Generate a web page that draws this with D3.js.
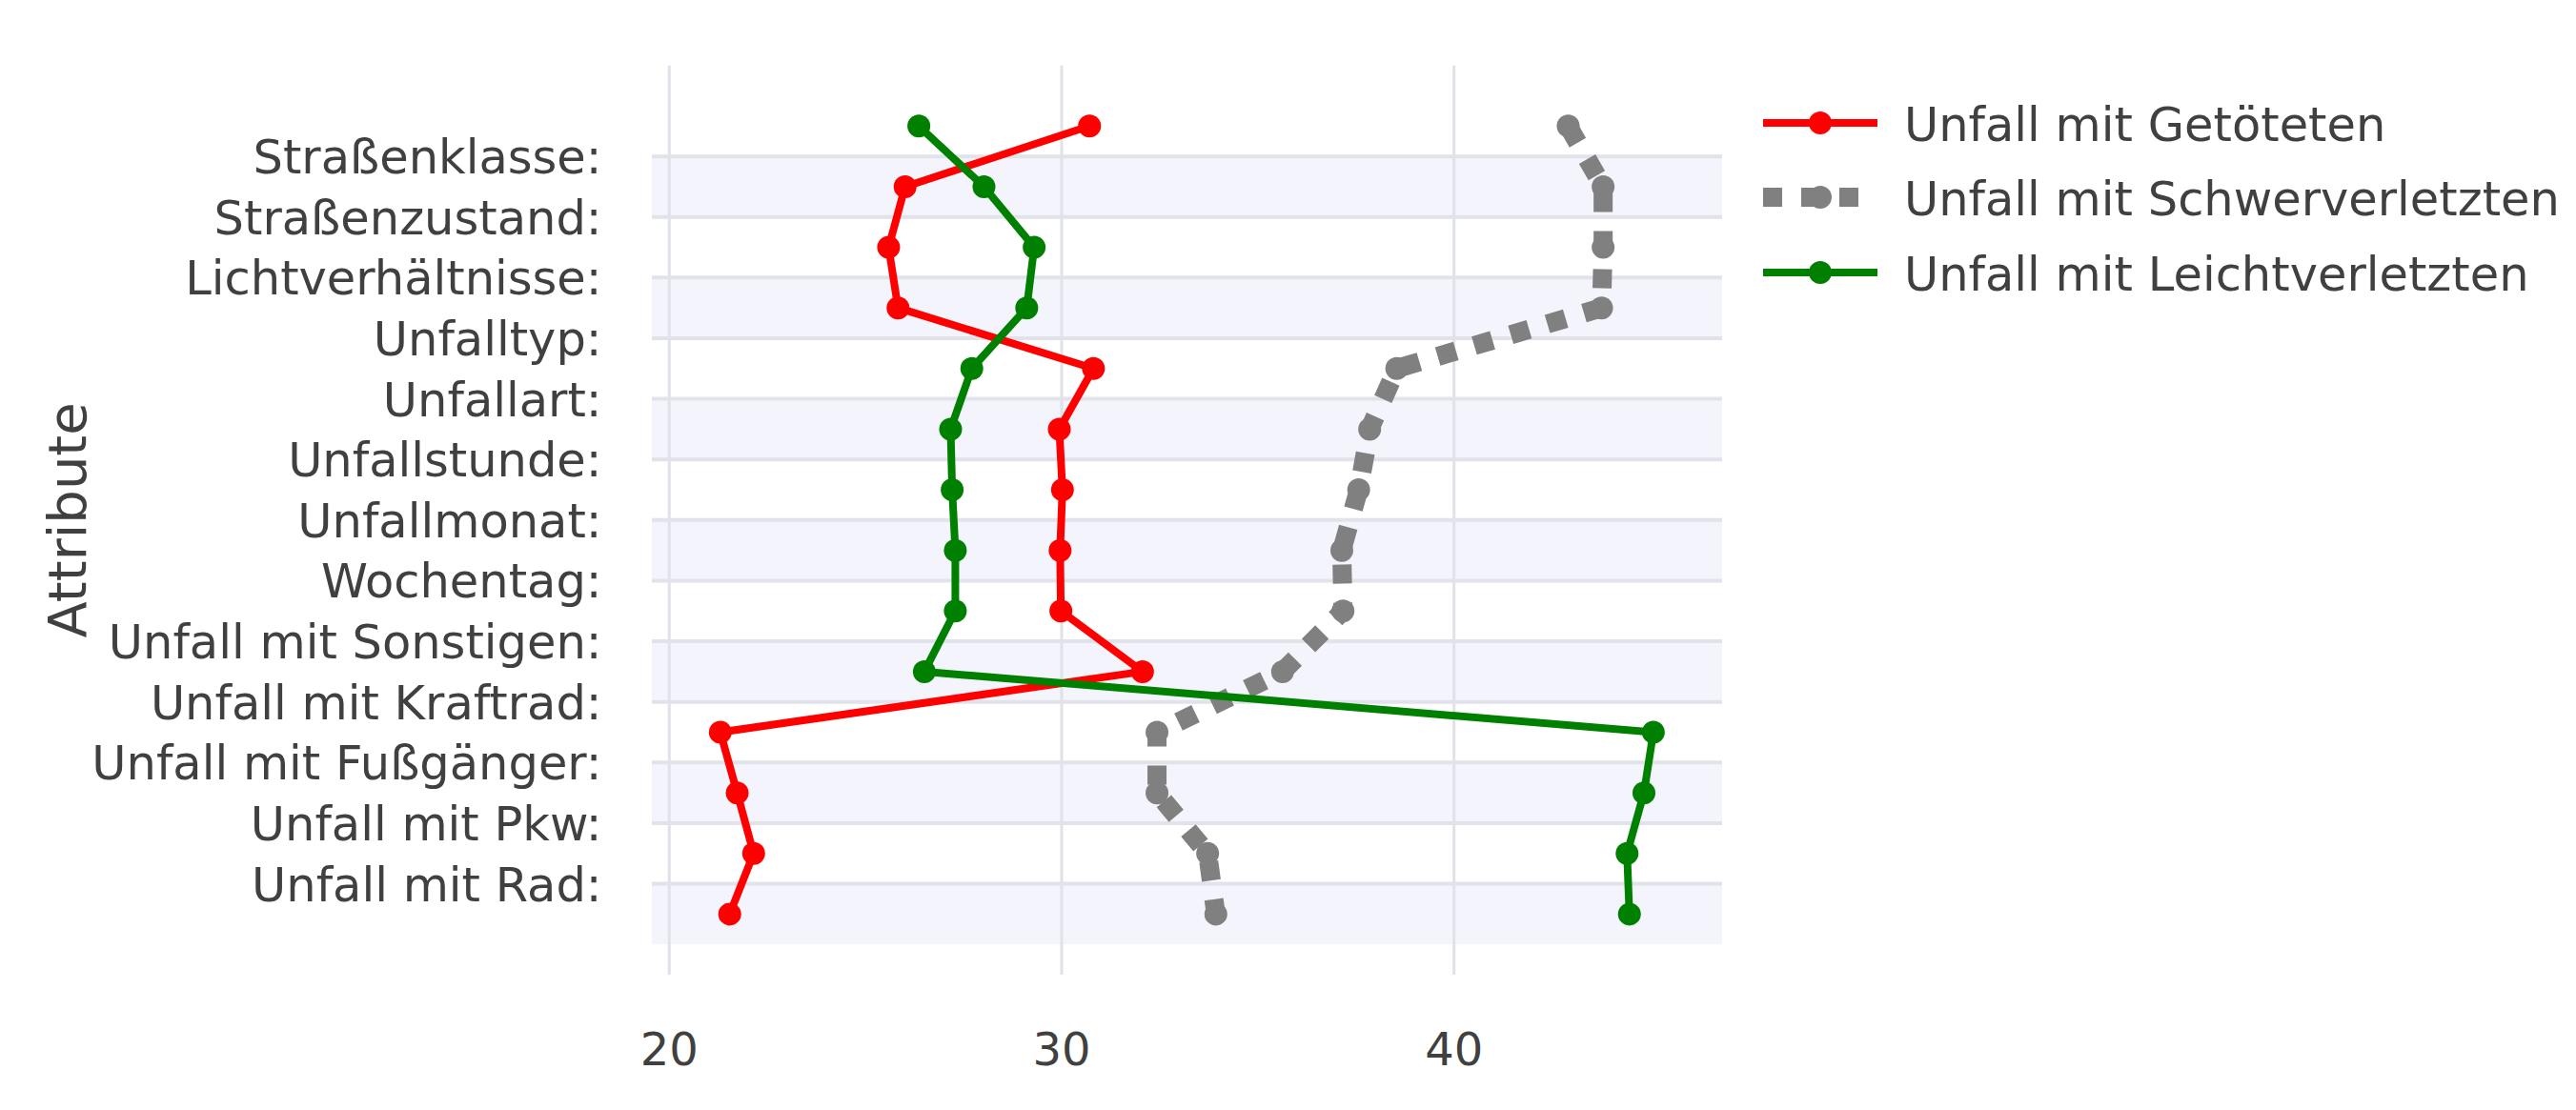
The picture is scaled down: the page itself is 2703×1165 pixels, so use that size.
<!DOCTYPE html>
<html>
<head>
<meta charset="utf-8">
<script src="https://cdn.jsdelivr.net/npm/d3@7"></script>
<style>
  html, body { margin: 0; padding: 0; background: #ffffff; }
  svg { display: block; font-family: "DejaVu Sans", Verdana, sans-serif; }
</style>
</head>
<body>
<svg id="chart" width="2703" height="1165"></svg>
<script>
// ---------- data ----------
const categories = [
  "Straßenklasse:", "Straßenzustand:", "Lichtverhältnisse:", "Unfalltyp:",
  "Unfallart:", "Unfallstunde:", "Unfallmonat:", "Wochentag:",
  "Unfall mit Sonstigen:", "Unfall mit Kraftrad:", "Unfall mit Fußgänger:",
  "Unfall mit Pkw:", "Unfall mit Rad:"
];
const seriesNames = ["Unfall mit Getöteten", "Unfall mit Schwerverletzten", "Unfall mit Leichtverletzten"];
const getoetet = [30.71, 26.01, 25.59, 25.83, 30.81, 29.94, 30.02, 29.96, 29.98, 32.06, 21.30, 21.73, 22.15, 21.54];
const schwer   = [42.91, 43.80, 43.80, 43.76, 38.54, 37.85, 37.57, 37.14, 37.17, 35.63, 32.43, 32.43, 33.72, 33.93];
const leicht   = [26.36, 28.02, 29.30, 29.11, 27.71, 27.17, 27.21, 27.29, 27.29, 26.50, 45.08, 44.84, 44.41, 44.47];
const xTicks = [20, 30, 40];
const axisTitle = "Attribute";

(function () {
// ---------- layout ----------
const svg = d3.select("#chart");
const pLeft = 684, pRight = 1807, pTop = 68.7, pBottom = 1023;
const textColor = "#404040";
const fontSize = 49.5;

const x = d3.scaleLinear().domain([19.556, 46.832]).range([pLeft, pRight]);
const y = d3.scaleLinear().domain([-1, 14]).range([pTop, pBottom]);

svg.append("rect").attr("width", 2703).attr("height", 1165).attr("fill", "#ffffff");

// shaded bands (between label positions, alternating)
const bandIdx = categories.map((c, i) => i).filter(i => i % 2 === 0);
svg.append("g").selectAll("rect").data(bandIdx).join("rect")
  .attr("x", pLeft).attr("width", pRight - pLeft)
  .attr("y", i => y(i + 0.5))
  .attr("height", i => y(i + 1.5) - y(i + 0.5))
  .attr("fill", "#f3f4fc");

// vertical grid lines
svg.append("g").selectAll("line").data(xTicks).join("line")
  .attr("x1", d => x(d)).attr("x2", d => x(d))
  .attr("y1", pTop).attr("y2", pBottom)
  .attr("stroke", "#e0e2ea").attr("stroke-width", 3);

// horizontal grid lines at label positions
svg.append("g").selectAll("line").data(categories).join("line")
  .attr("x1", pLeft).attr("x2", pRight)
  .attr("y1", (d, i) => y(i + 0.5)).attr("y2", (d, i) => y(i + 0.5))
  .attr("stroke", "#e2e3ea").attr("stroke-width", 4);

// y tick labels
svg.append("g").selectAll("text").data(categories).join("text")
  .attr("x", 631.5)
  .attr("y", (d, i) => y(i + 0.5) + 18)
  .attr("text-anchor", "end")
  .attr("font-size", fontSize)
  .attr("fill", textColor)
  .text(d => d);

// x tick labels
svg.append("g").selectAll("text").data(xTicks).join("text")
  .attr("x", d => x(d))
  .attr("y", 1118)
  .attr("text-anchor", "middle")
  .attr("font-size", 48)
  .attr("fill", textColor)
  .text(d => d);

// axis title
svg.append("text")
  .attr("transform", `translate(90,${(pTop + pBottom) / 2}) rotate(-90)`)
  .attr("text-anchor", "middle")
  .attr("font-size", 56)
  .attr("fill", textColor)
  .text(axisTitle);

// ---------- traces ----------
const traces = [
  { name: seriesNames[0], values: getoetet, color: "#ff0000", width: 8, dash: null },
  { name: seriesNames[1], values: schwer,   color: "#808080", width: 20, dash: "20,20" },
  { name: seriesNames[2], values: leicht,   color: "#008000", width: 8, dash: null }
];

const line = d3.line().x(d => x(d)).y((d, i) => y(i));

traces.forEach(t => {
  const g = svg.append("g");
  g.append("path")
    .datum(t.values)
    .attr("d", line)
    .attr("fill", "none")
    .attr("stroke", t.color)
    .attr("stroke-width", t.width)
    .attr("stroke-linejoin", "round")
    .attr("stroke-dasharray", t.dash);
  g.selectAll("circle").data(t.values).join("circle")
    .attr("cx", d => x(d))
    .attr("cy", (d, i) => y(i))
    .attr("r", 12)
    .attr("fill", t.color);
});

// ---------- legend ----------
const legendRows = [129, 207, 286];
const lg = svg.append("g");
traces.forEach((t, k) => {
  const cy = legendRows[k];
  lg.append("line")
    .attr("x1", 1850).attr("x2", 1970)
    .attr("y1", cy).attr("y2", cy)
    .attr("stroke", t.color)
    .attr("stroke-width", t.width)
    .attr("stroke-dasharray", t.dash);
  lg.append("circle")
    .attr("cx", 1910).attr("cy", cy).attr("r", 12)
    .attr("fill", t.color);
  lg.append("text")
    .attr("x", 1998).attr("y", cy + 19)
    .attr("font-size", fontSize)
    .attr("fill", textColor)
    .text(t.name);
});
})();
</script>
</body>
</html>
